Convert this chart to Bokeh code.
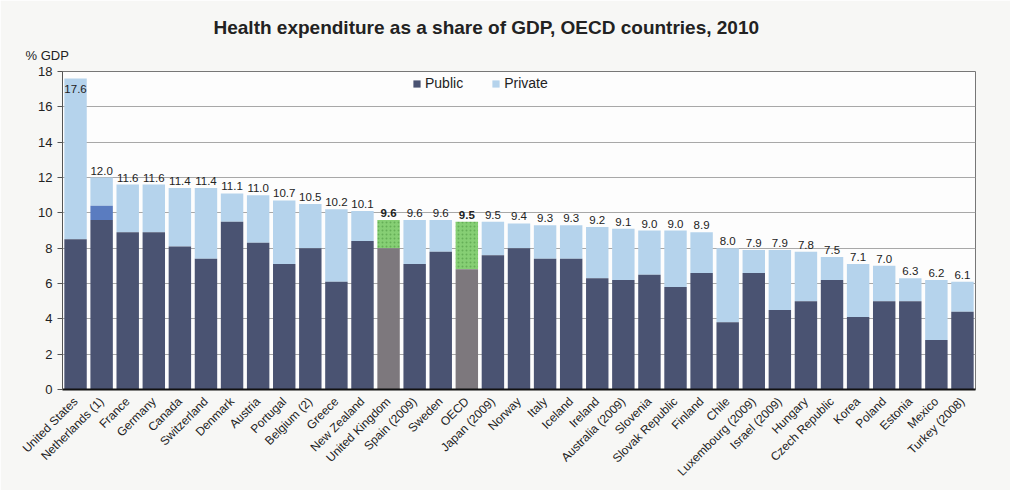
import math
from bokeh.plotting import figure
from bokeh.models import (FactorRange, Range1d, ColumnDataSource, Legend, LegendItem,
                          Title, SingleIntervalTicker)
from bokeh.embed import file_html
from bokeh.resources import INLINE

countries = ["United States", "Netherlands (1)", "France", "Germany", "Canada", "Switzerland",
             "Denmark", "Austria", "Portugal", "Belgium (2)", "Greece", "New Zealand",
             "United Kingdom", "Spain (2009)", "Sweden", "OECD", "Japan (2009)", "Norway",
             "Italy", "Iceland", "Ireland", "Australia (2009)", "Slovenia", "Slovak Republic",
             "Finland", "Chile", "Luxembourg (2009)", "Israel (2009)", "Hungary",
             "Czech Republic", "Korea", "Poland", "Estonia", "Mexico", "Turkey (2008)"]
total = [17.6, 12.0, 11.6, 11.6, 11.4, 11.4, 11.1, 11.0, 10.7, 10.5, 10.2, 10.1,
         9.6, 9.6, 9.6, 9.5, 9.5, 9.4, 9.3, 9.3, 9.2, 9.1, 9.0, 9.0, 8.9,
         8.0, 7.9, 7.9, 7.8, 7.5, 7.1, 7.0, 6.3, 6.2, 6.1]
public = [8.5, 9.6, 8.9, 8.9, 8.1, 7.4, 9.5, 8.3, 7.1, 8.0, 6.1, 8.4,
          8.0, 7.1, 7.8, 6.8, 7.6, 8.0, 7.4, 7.4, 6.3, 6.2, 6.5, 5.8, 6.6,
          3.8, 6.6, 4.5, 5.0, 6.2, 4.1, 5.0, 5.0, 2.8, 4.4]
unallocated = [0, 0.8] + [0] * 33
highlight = ["United Kingdom", "OECD"]

C_PUB = "#4a5372"
C_PRIV = "#b5d3ec"
C_UNAL = "#5a7cc0"
C_PUB_H = "#7d787d"
C_PRIV_H = "#86cf74"

top_unal = [p_ + u for p_, u in zip(public, unallocated)]
src = ColumnDataSource(dict(
    country=countries,
    total=total,
    pub=public,
    unal=top_unal,
    pub_col=[C_PUB_H if c in highlight else C_PUB for c in countries],
    priv_col=[C_PRIV_H if c in highlight else C_PRIV for c in countries],
    hatch=["dot" if c in highlight else " " for c in countries],
))

p = figure(x_range=FactorRange(factors=countries, range_padding=0.0),
           y_range=Range1d(0, 18), width=1010, height=490, title=None,
           output_backend="svg", toolbar_location=None,
           min_border_left=62, min_border_right=35, min_border_top=71, min_border_bottom=101)
p.background_fill_color = "#fdfdfd"
p.border_fill_color = "#f7f7f5"
p.outline_line_color = "#777777"
p.outline_line_width = 1

W = 0.86
r_priv = p.vbar(x="country", bottom="unal", top="total", width=W, source=src,
                fill_color="priv_col", line_color=None,
                hatch_pattern="hatch", hatch_color="#4f9a45", hatch_scale=4, hatch_alpha=0.6)
r_unal = p.vbar(x="country", bottom="pub", top="unal", width=W, source=src,
                fill_color=C_UNAL, line_color=None)
r_pub = p.vbar(x="country", bottom=0, top="pub", width=W, source=src,
               fill_color="pub_col", line_color=None)

# value labels
idx_norm = [i for i, c in enumerate(countries) if c not in highlight and total[i] <= 17]
idx_bold = [i for i, c in enumerate(countries) if c in highlight]
idx_in = [i for i, c in enumerate(countries) if total[i] > 17]
for idxs, style, base, off in [(idx_norm, "normal", "bottom", -3), (idx_bold, "bold", "bottom", -3),
                               (idx_in, "normal", "top", 6)]:
    s = ColumnDataSource(dict(x=[countries[i] for i in idxs], y=[total[i] for i in idxs],
                              t=["%.1f" % total[i] for i in idxs]))
    p.text(x="x", y="y", text="t", source=s, text_align="center", text_baseline=base,
           y_offset=off, text_font_size="11.5px", text_color="#222222",
           text_font={"value": "Liberation Sans"}, text_font_style=style)

# axes
p.yaxis.ticker = SingleIntervalTicker(interval=2)
p.yaxis.major_label_text_font = "Liberation Sans"
p.yaxis.major_label_text_font_size = "13px"
p.yaxis.major_label_text_color = "#222222"
p.yaxis.axis_line_color = "#555555"
p.yaxis.major_tick_line_color = "#555555"
p.yaxis.major_tick_out = 5
p.yaxis.major_tick_in = 0
p.yaxis.minor_tick_line_color = None
p.xaxis.major_label_orientation = math.pi / 4
p.xaxis.major_label_text_font = "Liberation Sans"
p.xaxis.major_label_text_font_size = "12px"
p.xaxis.major_label_text_color = "#222222"
p.xaxis.axis_line_color = "#111111"
p.xaxis.axis_line_width = 2
p.xaxis.major_tick_line_color = None
p.xaxis.major_label_standoff = 4
p.xgrid.grid_line_color = None
p.ygrid.grid_line_color = "#a8a8a8"
p.ygrid.grid_line_width = 1

# axis unit label and title (stacked above the frame)
p.add_layout(Title(text="% GDP", align="left", offset=-37, standoff=17,
                   text_font="Liberation Sans", text_font_size="13px",
                   text_font_style="normal", text_color="#222222"), "above")
p.add_layout(Title(text="Health expenditure as a share of GDP, OECD countries, 2010",
                   align="left", offset=151, standoff=0,
                   text_font="Liberation Sans", text_font_size="19px",
                   text_font_style="bold", text_color="#222222"), "above")

legend = Legend(items=[LegendItem(label="Public", renderers=[r_pub], index=0),
                       LegendItem(label="Private", renderers=[r_priv], index=0)],
                orientation="horizontal", location=(350, 298),
                label_text_font="Liberation Sans", label_text_font_size="14px",
                label_text_color="#222222", glyph_width=9, glyph_height=9,
                spacing=28, padding=0, margin=0, label_standoff=4,
                border_line_color=None, background_fill_alpha=0)
p.add_layout(legend)

open("out.html", "w").write(file_html(p, INLINE))
